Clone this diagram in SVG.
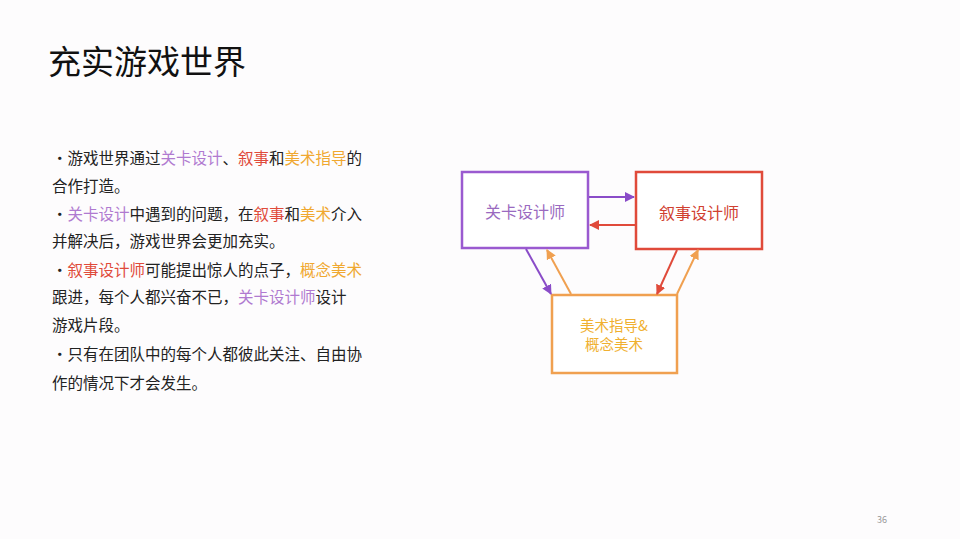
<svg xmlns="http://www.w3.org/2000/svg" width="960" height="539" viewBox="0 0 960 539">
<style>
text{font-family:"Noto Sans CJK SC","Noto Sans",sans-serif}
.t{font-size:15.5px;fill:#222}
.p{fill:#b07ad0}.r{fill:#e04a3a}.o{fill:#f0a830}
.c{stroke-width:2;fill:none}
</style>
<defs>
<marker id="mp" viewBox="0 0 10 10" refX="9" refY="5" markerWidth="5" markerHeight="5" orient="auto"><path d="M0,0L10,5L0,10z" fill="#8a4cc8"/></marker>
<marker id="mr" viewBox="0 0 10 10" refX="9" refY="5" markerWidth="5" markerHeight="5" orient="auto"><path d="M0,0L10,5L0,10z" fill="#e04a3a"/></marker>
<marker id="mo" viewBox="0 0 10 10" refX="9" refY="5" markerWidth="5" markerHeight="5" orient="auto"><path d="M0,0L10,5L0,10z" fill="#f0a050"/></marker>
</defs>
<rect width="960" height="539" fill="#fdfcfd"/>
<text x="48" y="74" font-size="33" fill="#111">充实游戏世界</text>
<g class="t">
<text x="52" y="164">·游戏世界通过<tspan class="p">关卡设计</tspan>、<tspan class="r">叙事</tspan>和<tspan class="o">美术指导</tspan>的</text>
<text x="52" y="192">合作打造。</text>
<text x="52" y="220">·<tspan class="p">关卡设计</tspan>中遇到的问题，在<tspan class="r">叙事</tspan>和<tspan class="o">美术</tspan>介入</text>
<text x="52" y="247">并解决后，游戏世界会更加充实。</text>
<text x="52" y="276">·<tspan class="r">叙事设计师</tspan>可能提出惊人的点子，<tspan class="o">概念美术</tspan></text>
<text x="52" y="303">跟进，每个人都兴奋不已，<tspan class="p">关卡设计师</tspan>设计</text>
<text x="52" y="331">游戏片段。</text>
<text x="52" y="360">·只有在团队中的每个人都彼此关注、自由协</text>
<text x="52" y="389">作的情况下才会发生。</text>
</g>
<g id="level"><rect x="462" y="172" width="126" height="76" fill="#fff" stroke="#9a5ad0" stroke-width="2.5"/><text x="525" y="218" text-anchor="middle" font-size="16" fill="#9a6ac0">关卡设计师</text></g>
<g id="narr"><rect x="636" y="172" width="126" height="77" fill="#fff" stroke="#e04a3a" stroke-width="2.5"/><text x="699" y="219" text-anchor="middle" font-size="16" fill="#d04030">叙事设计师</text></g>
<g id="art"><rect x="552" y="295" width="125" height="78" fill="#fff" stroke="#f0a050" stroke-width="2.5"/><text x="614" y="331" text-anchor="middle" font-size="14.5" fill="#f0b030">美术指导&amp;</text><text x="614" y="350" text-anchor="middle" font-size="14.5" fill="#f0b030">概念美术</text></g>
<g id="connectors">
<line x1="589" y1="197" x2="634" y2="197" stroke="#8a4cc8" class="c" marker-end="url(#mp)"/>
<line x1="635" y1="225" x2="590" y2="225" stroke="#e04a3a" class="c" marker-end="url(#mr)"/>
<line x1="526" y1="249" x2="551" y2="294" stroke="#8a4cc8" class="c" marker-end="url(#mp)"/>
<line x1="571" y1="294" x2="547" y2="250" stroke="#f0a050" class="c" marker-end="url(#mo)"/>
<line x1="677" y1="250" x2="657" y2="294" stroke="#e04a3a" class="c" marker-end="url(#mr)"/>
<line x1="677" y1="294" x2="698" y2="250" stroke="#f0a050" class="c" marker-end="url(#mo)"/>
</g>
<text x="877" y="523" font-size="9" fill="#999" font-family="Liberation Sans,sans-serif">36</text>
</svg>
